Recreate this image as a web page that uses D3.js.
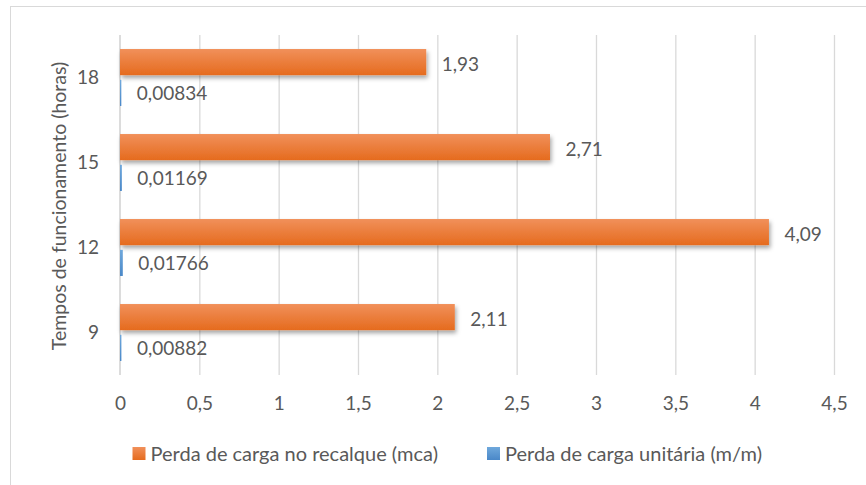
<!DOCTYPE html>
<html><head><meta charset="utf-8">
<script src="https://cdn.jsdelivr.net/npm/d3@7"></script>
<style>body{margin:0;background:#fff}svg{display:block;font-family:Lato,"Noto Sans",sans-serif}</style>
</head><body><svg id="c" width="866" height="485"></svg>
<script>
const categories = ["18","15","12","9"];
const seriesNames = ["Perda de carga no recalque (mca)","Perda de carga unitária (m/m)"];
const recalque = [1.93, 2.71, 4.09, 2.11];
const unitaria = [0.00834, 0.01169, 0.01766, 0.00882];
const xTicks = [0,0.5,1,1.5,2,2.5,3,3.5,4,4.5];
const yTitle = "Tempos de funcionamento (horas)";

const fmt = v => String(v).replace(".", ",");
const svg = d3.select("#c");
const textColor = "#595959";

const defs = svg.append("defs");
const gO = defs.append("linearGradient").attr("id","gO").attr("x1",0).attr("y1",0).attr("x2",0).attr("y2",1);
gO.append("stop").attr("offset","0%").attr("stop-color","#f1905a");
gO.append("stop").attr("offset","100%").attr("stop-color","#e56b1e");
const gB = defs.append("linearGradient").attr("id","gB").attr("x1",0).attr("y1",0).attr("x2",0).attr("y2",1);
gB.append("stop").attr("offset","0%").attr("stop-color","#6fa8dc");
gB.append("stop").attr("offset","100%").attr("stop-color","#4a88c8");
const f = defs.append("filter").attr("id","sh").attr("x","-10%").attr("y","-30%").attr("width","130%").attr("height","190%");
f.append("feDropShadow").attr("dx",1.5).attr("dy",3).attr("stdDeviation",2.2).attr("flood-color","#000").attr("flood-opacity",0.35);

svg.append("rect").attr("x",10.5).attr("y",6.5).attr("width",900).attr("height",600)
  .attr("fill","#fff").attr("stroke","#d9d9d9");

const x = d3.scaleLinear().domain([0,4.5]).range([120,834]);
const y = d3.scaleBand().domain(categories).range([35,375]).paddingInner(0.33).paddingOuter(0.165);
const sub = d3.scaleBand().domain(seriesNames).range([0,y.bandwidth()]).paddingInner(0.15);

// gridlines
svg.append("g").selectAll("line").data(xTicks.slice(1)).join("line")
  .attr("x1",d=>x(d)+0.5).attr("x2",d=>x(d)+0.5).attr("y1",35).attr("y2",375)
  .attr("stroke","#d9d9d9").attr("stroke-width",1.3);
// category axis line
svg.append("line").attr("x1",x(0)).attr("x2",x(0)).attr("y1",35).attr("y2",375)
  .attr("stroke","#d0d0d0").attr("stroke-width",1.5);

// x tick labels via axis
const xa = svg.append("g").attr("transform","translate(0,375)")
  .call(d3.axisBottom(x).tickValues(xTicks).tickFormat(fmt).tickSize(0).tickPadding(22));
xa.select(".domain").remove();
xa.selectAll("text").attr("fill",textColor).style("font-size","19px").style("font-family","Lato, sans-serif");

// y tick labels
const ya = svg.append("g").attr("transform","translate(120,0)")
  .call(d3.axisLeft(y).tickSize(0).tickPadding(21));
ya.select(".domain").remove();
ya.selectAll("text").attr("fill",textColor).style("font-size","19px").style("font-family","Lato, sans-serif");

// y title
svg.append("text").attr("transform","translate(59,206) rotate(-90)").attr("text-anchor","middle")
  .attr("dy","0.35em").attr("fill",textColor).style("font-size","19.5px").text(yTitle);

const data = categories.map((c,i)=>({c, vals:[recalque[i], unitaria[i]]}));
const fills = ["url(#gO)","url(#gB)"];
const groups = svg.append("g").selectAll("g").data(data).join("g")
  .attr("transform",d=>`translate(0,${y(d.c)})`);
seriesNames.forEach((s,si)=>{
  groups.append("rect").attr("x",x(0)).attr("y",sub(s))
    .attr("width",d=>Math.max(x(d.vals[si])-x(0),0.8)).attr("height",sub.bandwidth())
    .attr("fill",fills[si]).attr("filter",si===0?"url(#sh)":null);
  groups.append("text").attr("x",d=>x(d.vals[si])+15.5).attr("y",sub(s)+sub.bandwidth()/2 + (si===0?2:0.5))
    .attr("dy","0.35em").attr("fill",textColor).style("font-size","19px")
    .text(d=>fmt(d.vals[si]));
});

// legend
const leg = svg.append("g").attr("transform","translate(0,453.5)");
const legX = [132.5, 487];
seriesNames.forEach((s,i)=>{
  leg.append("rect").attr("x",legX[i]).attr("y",-6.5).attr("width",13).attr("height",13).attr("fill",fills[i]);
  leg.append("text").attr("x",legX[i]+18).attr("y",0).attr("dy","0.35em").attr("fill",textColor)
    .style("font-size","20px").text(s);
});
</script></body></html>
